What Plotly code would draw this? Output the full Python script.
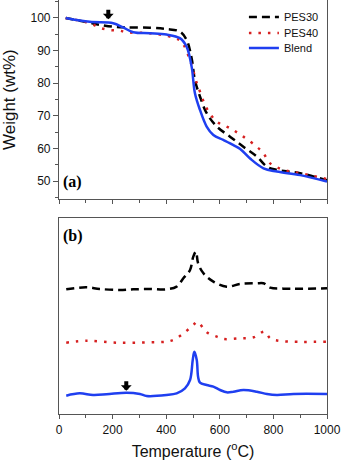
import plotly.graph_objects as go

# TGA curves (top panel)
t_pes30 = [25, 115, 152, 202, 252, 339, 401, 451, 476, 495, 507, 526, 551, 589, 638, 688, 738, 776, 813, 900, 1000]
w_pes30 = [100, 98.5, 97.9, 97.3, 97.1, 97.0, 96.6, 95.8, 93.3, 87.6, 81, 75.9, 70.8, 66.7, 63.6, 60.5, 57.5, 54.4, 53.4, 52.4, 50.2]

t_pes40 = [25, 115, 152, 190, 227, 252, 339, 426, 457, 489, 514, 526, 551, 589, 638, 688, 738, 763, 788, 838, 900, 1000]
w_pes40 = [100, 98.4, 97.0, 96.3, 96.1, 95.6, 95.3, 94.0, 92.7, 87, 80, 77.4, 72.3, 68.2, 66.2, 63.6, 60.5, 58.5, 55.4, 53.4, 52.4, 50.6]

t_blend = [25, 115, 202, 239, 277, 339, 401, 451, 476, 495, 507, 526, 551, 576, 613, 651, 676, 713, 763, 813, 900, 1000]
w_blend = [100, 98.8, 98.4, 97.1, 95.6, 95.3, 94.9, 93.8, 91.2, 85, 77, 71.8, 66.7, 64.1, 62.6, 61, 59.8, 56.9, 53.9, 52.9, 51.8, 49.8]

# DTG curves (bottom panel), offset, arbitrary units
d_t30 = [27, 102, 152, 227, 277, 339, 401, 439, 464, 489, 501, 511, 519, 539, 576, 626, 676, 738, 763, 788, 838, 1000]
d_v30 = [37.2, 37.8, 37.3, 37.0, 37.2, 37.3, 37.2, 38, 40.5, 43, 47, 48.5, 45, 42, 39.5, 38, 38.8, 39, 39, 37.7, 37.4, 37.5]

d_t40 = [27, 102, 214, 339, 401, 426, 457, 501, 516, 539, 557, 589, 614, 676, 726, 767, 788, 826, 1000]
d_v40 = [21.2, 21.8, 21.2, 21.3, 21.5, 22, 23.5, 26.5, 27.5, 25.5, 24, 23, 22.3, 22.5, 22.8, 24.5, 22.5, 21.7, 21.5]

d_tb = [27, 77, 127, 177, 252, 302, 327, 401, 439, 470, 489, 499, 505, 514, 519, 526, 551, 576, 601, 626, 651, 688, 738, 776, 813, 875, 1000]
d_vb = [5.3, 6, 5.5, 5.7, 6.2, 5.8, 5.2, 5.5, 6, 7.5, 10, 16, 18.5, 16, 11, 9.2, 8.5, 8, 7, 6.3, 6.5, 7, 6.5, 5.8, 5.5, 5.8, 5.8]

font = "Liberation Sans, Arial, sans-serif"
serif = "Liberation Serif, Times New Roman, serif"
axcol = "#555555"
black_dash = dict(color="black", width=2.5, dash="8px,5px", shape="spline")
red_dot = dict(color="#d62020", width=2.5, dash="2.5px,7px", shape="spline")
blue_line = dict(color="#1f3ff0", width=2.5, shape="spline")

fig = go.Figure()
fig.add_trace(go.Scatter(x=t_pes30, y=w_pes30, mode="lines", name="PES30", line=black_dash, legend="legend"))
fig.add_trace(go.Scatter(x=t_pes40, y=w_pes40, mode="lines", name="PES40", line=red_dot, legend="legend2"))
fig.add_trace(go.Scatter(x=t_blend, y=w_blend, mode="lines", name="Blend", line=blue_line, legend="legend3"))

fig.add_trace(go.Scatter(x=d_t30, y=d_v30, mode="lines", showlegend=False, line=black_dash, xaxis="x2", yaxis="y2"))
fig.add_trace(go.Scatter(x=d_t40, y=d_v40, mode="lines", showlegend=False, line=red_dot, xaxis="x2", yaxis="y2"))
fig.add_trace(go.Scatter(x=d_tb, y=d_vb, mode="lines", showlegend=False, line=blue_line, xaxis="x2", yaxis="y2"))

xcommon = dict(range=[0, 1000], showline=True, linecolor=axcol, linewidth=1.2, showgrid=False, zeroline=False,
               ticks="outside", ticklen=4, tickcolor=axcol, dtick=200, tick0=0, automargin=False,
               minor=dict(dtick=100, ticks="outside", ticklen=3, tickcolor=axcol))

def leg(y):
    return dict(x=0.69, xanchor="left", y=y, yanchor="middle", bgcolor="rgba(0,0,0,0)",
                font=dict(size=11), itemwidth=30)

fig.update_layout(
    width=342, height=461,
    margin=dict(l=59, r=15, t=0, b=47),
    paper_bgcolor="white", plot_bgcolor="white",
    font=dict(family=font, size=12, color="#111"),
    xaxis=dict(xcommon, domain=[0, 1], anchor="y", showticklabels=False, mirror=False),
    yaxis=dict(domain=[0.5186, 1], range=[44.39, 105.5], showline=True, linecolor=axcol, linewidth=1.2, mirror=True,
               showgrid=False, zeroline=False, ticks="outside", ticklen=5, tickcolor=axcol, dtick=10, tick0=0,
               minor=dict(dtick=5, ticks="outside", ticklen=3, tickcolor=axcol), automargin=False,
               tickfont=dict(size=12), title=dict(text="Weight (wt%)", font=dict(size=17), standoff=16)),
    xaxis2=dict(xcommon, domain=[0, 1], anchor="y2", mirror=True, tickfont=dict(size=12),
                title=dict(text="Temperature (<sup>o</sup>C)", font=dict(size=16), standoff=10)),
    yaxis2=dict(domain=[0, 0.4727], range=[-0.2, 58.5], showline=True, linecolor=axcol, linewidth=1.2, mirror=True,
                showgrid=False, zeroline=False, showticklabels=False, ticks="", automargin=False),
    legend=leg(0.959), legend2=leg(0.920), legend3=leg(0.884),
)

fig.add_annotation(x=0.008, xref="x domain", y=0.03, yref="y domain", xanchor="left", yanchor="bottom",
                   text="<b>(a)</b>", showarrow=False, font=dict(family=serif, size=16, color="black"))
fig.add_annotation(x=0.008, xref="x2 domain", y=0.965, yref="y2 domain", xanchor="left", yanchor="top",
                   text="<b>(b)</b>", showarrow=False, font=dict(family=serif, size=16, color="black"))

# arrows
fig.add_annotation(x=184, y=99.6, xref="x", yref="y", ax=0, ay=-11, showarrow=True, arrowhead=1, arrowsize=0.45,
                   arrowwidth=4, arrowcolor="black", text="")
fig.add_annotation(x=251, y=6.8, xref="x2", yref="y2", ax=0, ay=-11, showarrow=True, arrowhead=1, arrowsize=0.45,
                   arrowwidth=4, arrowcolor="black", text="")

# drop the page's default body margin so the figure sits at the window corner
fig.write_html("out.html", config={"displayModeBar": False},
               post_script="document.body.style.margin='0';")
